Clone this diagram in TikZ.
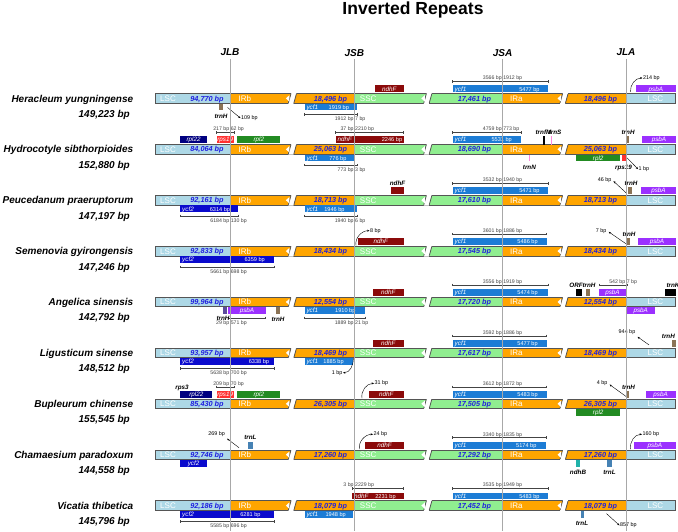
\documentclass[tikz,border=0pt]{standalone}
\usepackage{fontspec}
\setmainfont{Liberation Sans}
\usetikzlibrary{arrows.meta}
\definecolor{lscc}{HTML}{ADD8E6}
\definecolor{irc}{HTML}{FFA500}
\definecolor{sscc}{HTML}{90EE90}
\definecolor{barline}{HTML}{555555}
\definecolor{numblue}{HTML}{1F1FE0}
\definecolor{ycfone}{HTML}{1C7CD5}
\definecolor{ycftwo}{HTML}{0A0ACD}
\definecolor{ndhfc}{HTML}{8B0A0A}
\definecolor{psbac}{HTML}{9B30FF}
\definecolor{rplnavy}{HTML}{000080}
\definecolor{rpsred}{HTML}{FF3030}
\definecolor{rpltwo}{HTML}{228B22}
\definecolor{trnhc}{HTML}{8B7355}
\definecolor{trnlc}{HTML}{4682B4}
\definecolor{ndhbc}{HTML}{20B2AA}
\definecolor{trnpink}{HTML}{FF88DD}
\definecolor{slatec}{HTML}{5B4B9B}
\definecolor{vline}{HTML}{A8A8A8}
\definecolor{brc}{HTML}{444444}
\tikzset{
 segbox/.style={draw=barline, line width=0.8pt},
 regl/.style={text=white, font=\fontsize{8}{9}\selectfont, inner sep=0, anchor=base},
 numl/.style={text=numblue, font=\fontsize{7.3}{8}\selectfont\bfseries\itshape, inner sep=0, anchor=base},
 gname/.style={text=white, font=\fontsize{6.3}{7}\selectfont\itshape, inner sep=0},
 gbp/.style={text=white, font=\fontsize{5.6}{6}\selectfont, inner sep=0, anchor=base},
 brk/.style={draw=brc, line width=0.45pt},
 brl/.style={text=brc, font=\fontsize{5.2}{6}\selectfont, inner sep=0.3pt},
 tlab/.style={font=\fontsize{6.3}{7}\selectfont\bfseries\itshape, inner sep=0, anchor=base},
 alab/.style={font=\fontsize{5.4}{6}\selectfont, inner sep=0.4pt},
 arr/.style={-{Stealth[length=2.4pt,width=2pt]}, line width=0.4pt},
 spname/.style={font=\fontsize{10}{12}\selectfont\bfseries\itshape, anchor=base east, inner sep=0},
 jlab/.style={font=\fontsize{10}{12}\selectfont\bfseries\itshape, inner sep=0},
}
\newcommand\GA[3]{\path[fill=#3] (#1,-13) rectangle (#2,-6.2);}
\newcommand\GB[3]{\path[fill=#3] (#1,5.2) rectangle (#2,12);}
\newcommand\BrA[6]{%
 \draw[brk] (#2,-17) -- (#4,-17) (#2,-18.3) -- (#2,-15.7) (#3,-18.3) -- (#3,-15.7) (#4,-18.3) -- (#4,-15.7);
 \node[brl,anchor=base east] (#1l) at (#3-0.3,-18.7) {#5};
 \node[brl,anchor=base west] (#1r) at (#3+0.3,-18.7) {#6};}
\newcommand\BrB[6]{%
 \draw[brk] (#2,15.8) -- (#4,15.8) (#2,14.5) -- (#2,17.1) (#3,14.5) -- (#3,17.1) (#4,14.5) -- (#4,17.1);
 \node[brl,anchor=base east] (#1l) at (#3-0.3,22) {#5};
 \node[brl,anchor=base west] (#1r) at (#3+0.3,22) {#6};}
\newcommand\Brk[1]{%
 \path[fill=white] (#1-4,5.4) -- (#1-1,-5.4) -- (#1+4,-5.4) -- (#1+1,5.4) -- cycle;
 \draw[barline, line width=0.8pt] (#1-4,4.5) -- (#1-1.5,-4.5) (#1+1.5,4.5) -- (#1+4,-4.5);
 \path[fill=white] (#1-3,-3.2) -- (#1-6.5,0) -- (#1-3,3.2) -- cycle;}
\newcommand\DrawBar[4]{%
 \path[segbox,fill=lscc] (155.1,-4.8) rectangle (230,4.8);
 \path[segbox,fill=irc] (230,-4.8) rectangle (354.4,4.8);
 \path[segbox,fill=sscc] (354.4,-4.8) rectangle (502.5,4.8);
 \path[segbox,fill=irc] (502.5,-4.8) rectangle (626,4.8);
 \path[segbox,fill=lscc] (626,-4.8) rectangle (675.8,4.8);
 \Brk{292.4}\Brk{427.8}\Brk{564}
 \node[regl] (#1a) at (168,2.9) {LSC};
 \node[numl] (#1b) at (207,2.6) {#2};
 \node[regl] (#1c) at (244.8,2.9) {IRb};
 \node[numl] (#1d) at (330.5,2.6) {#3};
 \node[regl] (#1e) at (368.2,2.9) {SSC};
 \node[numl] (#1f) at (474.4,2.6) {#4};
 \node[regl] (#1g) at (516.4,2.9) {IRa};
 \node[numl] (#1h) at (600.4,2.6) {#3};
 \node[regl] (#1i) at (655.4,2.9) {LSC};}
\begin{document}
\begin{tikzpicture}[x=1pt,y=-1pt]
\useasboundingbox (0,0) rectangle (678,531);
\fill[white] (0,0) rectangle (678,531);
\node[font=\fontsize{17.5}{20}\selectfont\bfseries, inner sep=0] (title) at (413,10) {Inverted Repeats};
\node[jlab] (jlb) at (230,52.6) {JLB};
\node[jlab] (jsb) at (354.4,52.6) {JSB};
\node[jlab] (jsa) at (502.5,52.6) {JSA};
\node[jlab] (jla) at (626,52.6) {JLA};
% ---------- row 0
\begin{scope}[shift={(0,98.4)}]
\node[spname] (r0n) at (133.4,3.6) {Heracleum yungningense};
\node[spname] (r0s) at (130,18.9) {149,223 bp};
\DrawBar{r0}{94,770 bp}{18,496 bp}{17,461 bp}
\GA{375.2}{403.7}{ndhfc}
\node[gname,anchor=base] (r0g1) at (389.4,-7.35) {ndhF};
\GA{452.7}{548}{ycfone}
\node[gname,anchor=base west] (r0g2) at (454.5,-7.35) {ycf1};
\node[gbp] (r0g3) at (529.4,-7.35) {5477 bp};
\BrA{r0b1}{452.7}{502.5}{548}{3566 bp}{1912 bp}
\GA{636}{675.8}{psbac}
\node[gname,anchor=base] (r0g4) at (655.9,-7.35) {psbA};
\coordinate (r0c1) at (630.5,-6.5);
\node[alab,anchor=base west] (r0a1) at (642.5,-19) {214 bp};
\draw[arr] (r0c1) to[out=95,in=180] (r0a1.west);
\GB{218.8}{223.1}{trnhc}
\node[tlab] (r0t1) at (221,19.9) {trnH};
\coordinate (r0c2) at (227.5,9);
\node[alab,anchor=base west] (r0a2) at (240.5,21.2) {109 bp};
\draw[arr] (r0c2) -- (r0a2.west);
\GB{304.5}{357.4}{ycfone}
\node[gname,anchor=base west] (r0g5) at (306.3,10.85) {ycf1};
\node[gbp] (r0g6) at (338.8,10.85) {1919 bp};
\BrB{r0b2}{304.5}{354.4}{357.4}{1912 bp}{7 bp}
\end{scope}
% ---------- row 1
\begin{scope}[shift={(0,149.3)}]
\node[spname] (r1n) at (133.4,3.6) {Hydrocotyle sibthorpioides};
\node[spname] (r1s) at (130,18.9) {152,880 bp};
\DrawBar{r1}{84,064 bp}{25,063 bp}{18,690 bp}
\GA{180.2}{207.1}{rplnavy}
\node[gname,anchor=base] (r1g1) at (193.6,-7.35) {rpl22};
\GA{216.6}{233.9}{rpsred}
\node[gname,anchor=base] (r1g2) at (225.2,-7.35) {rps19};
\GA{237.4}{280.3}{rpltwo}
\node[gname,anchor=base] (r1g3) at (258.8,-7.35) {rpl2};
\BrA{r1b1}{216.6}{230}{233.9}{217 bp}{62 bp}
\GA{335.7}{403.7}{ndhfc}
\node[gname,anchor=base west] (r1g4) at (337.5,-7.35) {ndhF};
\node[gbp] (r1g5) at (392,-7.35) {2246 bp};
\BrA{r1b2}{335.7}{354.4}{403.7}{37 bp}{2210 bp}
\GA{452.7}{521.1}{ycfone}
\node[gname,anchor=base west] (r1g6) at (454.5,-7.35) {ycf1};
\node[gbp] (r1g7) at (501.7,-7.35) {5531 bp};
\BrA{r1b3}{452.7}{502.5}{521.1}{4759 bp}{773 bp}
\path[fill=black] (542.8,-13) rectangle (544.9,-4.6);
\path[fill=trnpink] (550.8,-13) rectangle (551.9,-4.6);
\node[tlab] (r1t1) at (543.5,-14.8) {trnfM};
\node[tlab] (r1t2) at (555,-14.8) {trnS};
\GA{626}{629.4}{trnhc}
\node[tlab] (r1t3) at (628.1,-14.8) {trnH};
\GA{642.4}{675.8}{psbac}
\node[gname,anchor=base] (r1g8) at (659,-7.35) {psbA};
\GB{304.5}{355.2}{ycfone}
\node[gname,anchor=base west] (r1g9) at (306.3,10.85) {ycf1};
\node[gbp] (r1g10) at (337.9,10.85) {776 bp};
\BrB{r1b4}{304.5}{354.4}{357.4}{773 bp}{3 bp}
\GB{528.6}{530.2}{trnpink}
\node[tlab] (r1t4) at (529.4,19.9) {trnN};
\GB{576.2}{620.3}{rpltwo}
\node[gname,anchor=base] (r1g11) at (598.2,10.85) {rpl2};
\GB{622.1}{626}{rpsred}
\node[tlab] (r1t5) at (623.5,19.9) {rps19};
\coordinate (r1c1) at (627,8.5);
\node[alab,anchor=base west] (r1a1) at (638,21.2) {1 bp};
\draw[arr] (r1c1) -- (r1a1.west);
\end{scope}
% ---------- row 2
\begin{scope}[shift={(0,200.2)}]
\node[spname] (r2n) at (133.4,3.6) {Peucedanum praeruptorum};
\node[spname] (r2s) at (130,18.9) {147,197 bp};
\DrawBar{r2}{92,161 bp}{18,713 bp}{17,610 bp}
\GA{391.2}{403.7}{ndhfc}
\node[tlab] (r2t1) at (397.5,-14.8) {ndhF};
\GA{452.7}{548}{ycfone}
\node[gname,anchor=base west] (r2g1) at (454.5,-7.35) {ycf1};
\node[gbp] (r2g2) at (529.4,-7.35) {5471 bp};
\BrA{r2b1}{452.7}{502.5}{548}{3532 bp}{1940 bp}
\coordinate (r2c1) at (626.5,-7);
\node[alab,anchor=base east] (r2a1) at (612,-19) {46 bp};
\draw[arr, shorten >=2pt] (r2c1) -- (r2a1.east);
\GA{628.1}{631.6}{trnhc}
\node[tlab] (r2t2) at (631,-14.8) {trnH};
\GA{641.2}{675.8}{psbac}
\node[gname,anchor=base] (r2g3) at (658.5,-7.35) {psbA};
\GB{180.2}{238.3}{ycftwo}
\node[gname,anchor=base west] (r2g4) at (182,10.85) {ycf2};
\node[gbp] (r2g5) at (220,10.85) {6314 bp};
\BrB{r2b2}{180.2}{230}{238.3}{6184 bp}{130 bp}
\GB{304.5}{357.4}{ycfone}
\node[gname,anchor=base west] (r2g6) at (306.3,10.85) {ycf1};
\node[gbp] (r2g7) at (334.4,10.85) {1946 bp};
\BrB{r2b3}{304.5}{354.4}{357.4}{1940 bp}{6 bp}
\end{scope}
% ---------- row 3
\begin{scope}[shift={(0,251.1)}]
\node[spname] (r3n) at (133.4,3.6) {Semenovia gyirongensis};
\node[spname] (r3s) at (130,18.9) {147,246 bp};
\DrawBar{r3}{92,833 bp}{18,434 bp}{17,545 bp}
\GA{357.8}{403.7}{ndhfc}
\node[gname,anchor=base] (r3g1) at (380.7,-7.35) {ndhF};
\coordinate (r3c1) at (356,-5.5);
\node[alab,anchor=base west] (r3a1) at (369.5,-19) {8 bp};
\draw[arr] (r3c1) to[out=100,in=180] (r3a1.west);
\GA{452.7}{546.7}{ycfone}
\node[gname,anchor=base west] (r3g2) at (454.5,-7.35) {ycf1};
\node[gbp] (r3g3) at (527.6,-7.35) {5486 bp};
\BrA{r3b1}{452.7}{502.5}{546.7}{3601 bp}{1886 bp}
\coordinate (r3c2) at (626.5,-7);
\node[alab,anchor=base east] (r3a2) at (607,-19) {7 bp};
\draw[arr, shorten >=2pt] (r3c2) -- (r3a2.east);
\GA{626}{630.3}{trnhc}
\node[tlab] (r3t1) at (629,-14.8) {trnH};
\GA{638.1}{675.8}{psbac}
\node[gname,anchor=base] (r3g4) at (657,-7.35) {psbA};
\GB{180.2}{274.2}{ycftwo}
\node[gname,anchor=base west] (r3g5) at (182,10.85) {ycf2};
\node[gbp] (r3g6) at (254.7,10.85) {6359 bp};
\BrB{r3b2}{180.2}{230}{274.2}{5661 bp}{698 bp}
\end{scope}
% ---------- row 4
\begin{scope}[shift={(0,302)}]
\node[spname] (r4n) at (133.4,3.6) {Angelica sinensis};
\node[spname] (r4s) at (130,18.9) {142,792 bp};
\DrawBar{r4}{99,964 bp}{12,554 bp}{17,720 bp}
\GA{372.6}{403.7}{ndhfc}
\node[gname,anchor=base] (r4g1) at (388.2,-7.35) {ndhF};
\GA{452.7}{548}{ycfone}
\node[gname,anchor=base west] (r4g2) at (454.5,-7.35) {ycf1};
\node[gbp] (r4g3) at (527.6,-7.35) {5474 bp};
\BrA{r4b1}{452.7}{502.5}{548}{3556 bp}{1919 bp}
\GA{576.2}{581.8}{black}
\node[tlab] (r4t1) at (576,-14.8) {ORF};
\GA{586.1}{590}{trnhc}
\node[tlab] (r4t2) at (589,-14.8) {trnH};
\GA{599.1}{626}{psbac}
\node[gname,anchor=base] (r4g4) at (612.5,-7.35) {psbA};
\BrA{r4b2}{599.1}{626}{627.5}{542 bp}{7 bp}
\GA{665}{675.8}{black}
\node[tlab] (r4t3) at (673,-14.8) {trnK};
\GB{223.1}{227.4}{slatec}
\GB{228.3}{265.6}{psbac}
\node[gname,anchor=base] (r4g5) at (247,10.85) {psbA};
\BrB{r4b3}{228.3}{230}{265.6}{29 bp}{571 bp}
\node[tlab] (r4t4) at (223,18.6) {trnH};
\GB{276.4}{279.9}{trnhc}
\node[tlab] (r4t5) at (278,19.9) {trnH};
\GB{304.5}{364.8}{ycfone}
\node[gname,anchor=base west] (r4g6) at (306.3,10.85) {ycf1};
\node[gbp] (r4g7) at (345.3,10.85) {1910 bp};
\BrB{r4b4}{304.5}{354.4}{364.8}{1889 bp}{21 bp}
\GB{626}{655.4}{psbac}
\node[gname,anchor=base] (r4g8) at (640.7,10.85) {psbA};
\end{scope}
% ---------- row 5
\begin{scope}[shift={(0,352.9)}]
\node[spname] (r5n) at (133.4,3.6) {Ligusticum sinense};
\node[spname] (r5s) at (130,18.9) {148,512 bp};
\DrawBar{r5}{93,957 bp}{18,469 bp}{17,617 bp}
\GA{372.6}{403.7}{ndhfc}
\node[gname,anchor=base] (r5g1) at (388.2,-7.35) {ndhF};
\GA{452.7}{546.7}{ycfone}
\node[gname,anchor=base west] (r5g2) at (454.5,-7.35) {ycf1};
\node[gbp] (r5g3) at (527.6,-7.35) {5477 bp};
\BrA{r5b1}{452.7}{502.5}{546.7}{3592 bp}{1886 bp}
\coordinate (r5c1) at (649,-8);
\node[alab,anchor=base] (r5a1) at (627,-19) {944 bp};
\draw[arr, shorten >=2pt] (r5c1) -- (r5a1.south east);
\GA{671.5}{675.8}{trnhc}
\node[tlab] (r5t1) at (668.4,-14.8) {trnH};
\GB{180.2}{274.2}{ycftwo}
\node[gname,anchor=base west] (r5g4) at (182,10.85) {ycf2};
\node[gbp] (r5g5) at (259,10.85) {6338 bp};
\BrB{r5b2}{180.2}{230}{274.2}{5638 bp}{700 bp}
\GB{304.5}{353.1}{ycfone}
\node[gname,anchor=base west] (r5g6) at (306.3,10.85) {ycf1};
\node[gbp] (r5g7) at (333.6,10.85) {1885 bp};
\coordinate (r5c2) at (353.5,5);
\node[alab,anchor=base east] (r5a2) at (343,21.2) {1 bp};
\draw[arr] (r5c2) to[out=-90,in=0] (r5a2.east);
\end{scope}
% ---------- row 6
\begin{scope}[shift={(0,403.8)}]
\node[spname] (r6n) at (133.4,3.6) {Bupleurum chinense};
\node[spname] (r6s) at (130,18.9) {155,545 bp};
\DrawBar{r6}{85,430 bp}{26,305 bp}{17,505 bp}
\node[tlab] (r6t1) at (182,-14.8) {rps3};
\GA{180.2}{212.3}{rplnavy}
\node[gname,anchor=base] (r6g1) at (196.3,-7.35) {rpl22};
\GA{216.6}{233.9}{rpsred}
\node[gname,anchor=base] (r6g2) at (225.2,-7.35) {rps19};
\BrA{r6b1}{216.6}{230}{233.9}{209 bp}{70 bp}
\GA{237.4}{280.3}{rpltwo}
\node[gname,anchor=base] (r6g3) at (258.8,-7.35) {rpl2};
\GA{369.1}{403.7}{ndhfc}
\node[gname,anchor=base] (r6g4) at (386.4,-7.35) {ndhF};
\coordinate (r6c1) at (362,-5.5);
\node[alab,anchor=base west] (r6a1) at (374,-19) {31 bp};
\draw[arr] (r6c1) to[out=100,in=180] (r6a1.west);
\GA{452.7}{546.7}{ycfone}
\node[gname,anchor=base west] (r6g5) at (454.5,-7.35) {ycf1};
\node[gbp] (r6g6) at (527.6,-7.35) {5483 bp};
\BrA{r6b2}{452.7}{502.5}{546.7}{3612 bp}{1872 bp}
\coordinate (r6c2) at (626.5,-7);
\node[alab,anchor=base east] (r6a2) at (608,-19) {4 bp};
\draw[arr, shorten >=2pt] (r6c2) -- (r6a2.east);
\GA{626}{629.4}{trnhc}
\node[tlab] (r6t2) at (628.5,-14.8) {trnH};
\GA{645.5}{675.8}{psbac}
\node[gname,anchor=base] (r6g7) at (660.6,-7.35) {psbA};
\GB{576.2}{620.3}{rpltwo}
\node[gname,anchor=base] (r6g8) at (598.2,10.85) {rpl2};
\end{scope}
% ---------- row 7
\begin{scope}[shift={(0,454.7)}]
\node[spname] (r7n) at (133.4,3.6) {Chamaesium paradoxum};
\node[spname] (r7s) at (130,18.9) {144,558 bp};
\DrawBar{r7}{92,746 bp}{17,260 bp}{17,292 bp}
\coordinate (r7c1) at (239,-7);
\node[alab,anchor=base] (r7a1) at (216.6,-19) {269 bp};
\draw[arr, shorten >=2pt] (r7c1) -- (r7a1.south east);
\GA{247.8}{253}{trnlc}
\node[tlab] (r7t1) at (250.4,-14.8) {trnL};
\GA{365.2}{403.7}{ndhfc}
\node[gname,anchor=base] (r7g1) at (384.5,-7.35) {ndhF};
\coordinate (r7c2) at (359.5,-5.5);
\node[alab,anchor=base west] (r7a2) at (373,-19) {24 bp};
\draw[arr] (r7c2) to[out=100,in=180] (r7a2.west);
\GA{452.7}{545.8}{ycfone}
\node[gname,anchor=base west] (r7g2) at (454.5,-7.35) {ycf1};
\node[gbp] (r7g3) at (526.3,-7.35) {5174 bp};
\BrA{r7b1}{452.7}{502.5}{545.8}{3340 bp}{1835 bp}
\GA{633.8}{675.8}{psbac}
\node[gname,anchor=base] (r7g4) at (654.8,-7.35) {psbA};
\coordinate (r7c3) at (630.3,-5.5);
\node[alab,anchor=base west] (r7a3) at (642,-19) {160 bp};
\draw[arr] (r7c3) to[out=95,in=180] (r7a3.west);
\GB{180.2}{207.1}{ycftwo}
\node[gname,anchor=base] (r7g5) at (193.6,10.85) {ycf2};
\GB{576.2}{579.6}{ndhbc}
\node[tlab] (r7t2) at (578,19.9) {ndhB};
\GB{607.4}{611.7}{trnlc}
\node[tlab] (r7t3) at (609.5,19.9) {trnL};
\end{scope}
% ---------- row 8
\begin{scope}[shift={(0,505.6)}]
\node[spname] (r8n) at (133.4,3.6) {Vicatia thibetica};
\node[spname] (r8s) at (130,18.9) {145,796 bp};
\DrawBar{r8}{92,186 bp}{18,079 bp}{17,452 bp}
\GA{352.2}{403.7}{ndhfc}
\node[gname,anchor=base west] (r8g1) at (354,-7.35) {ndhF};
\node[gbp] (r8g2) at (385.5,-7.35) {2231 bp};
\BrA{r8b1}{352.2}{354.4}{403.7}{3 bp}{2229 bp}
\GA{452.7}{548}{ycfone}
\node[gname,anchor=base west] (r8g3) at (454.5,-7.35) {ycf1};
\node[gbp] (r8g4) at (529.4,-7.35) {5483 bp};
\BrA{r8b2}{452.7}{502.5}{548}{3535 bp}{1949 bp}
\GB{180.2}{274.2}{ycftwo}
\node[gname,anchor=base west] (r8g5) at (182,10.85) {ycf2};
\node[gbp] (r8g6) at (250.4,10.85) {6281 bp};
\BrB{r8b3}{180.2}{230}{274.2}{5585 bp}{696 bp}
\GB{304.5}{353.1}{ycfone}
\node[gname,anchor=base west] (r8g7) at (306.3,10.85) {ycf1};
\node[gbp] (r8g8) at (335.7,10.85) {1948 bp};
\GB{580.5}{584}{trnlc}
\node[tlab] (r8t1) at (582,19.9) {trnL};
\coordinate (r8c1) at (606.5,8);
\node[alab,anchor=base west] (r8a1) at (619.5,21.2) {857 bp};
\draw[arr] (r8c1) -- (r8a1.west);
\end{scope}
% junction lines
\foreach \xx/\nm in {230/jlb,354.4/jsb,502.5/jsa,626/jla}{
 \draw[vline, line width=0.6pt] (\nm.south) ++(0,3) -- (\xx,531);
}
\end{tikzpicture}
\end{document}
